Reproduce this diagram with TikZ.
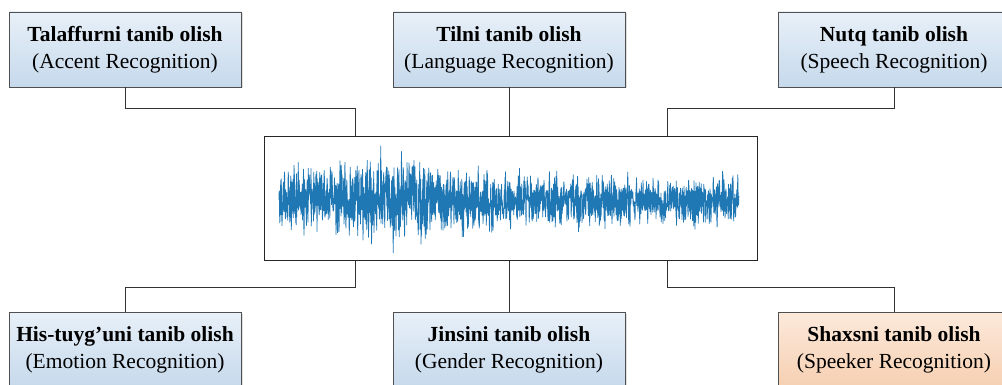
\documentclass[tikz,border=0pt]{standalone}
\usepackage{fontspec}
\setmainfont{Liberation Serif}
\usetikzlibrary{shadows}
\definecolor{boxblue}{RGB}{232,240,248}
\definecolor{boxbluedark}{RGB}{198,217,236}
\definecolor{boxpeach}{RGB}{252,233,219}
\definecolor{boxpeachdark}{RGB}{246,208,178}
\definecolor{boxedge}{RGB}{80,80,80}
\definecolor{waveblue}{RGB}{31,119,180}
\tikzstyle{taskbox}=[draw=boxedge,line width=0.8pt,top color=boxblue,bottom color=boxbluedark,
  minimum width=232pt,minimum height=75pt,align=center,font=\fontsize{21.5}{27}\selectfont,
  drop shadow={shadow xshift=1.5pt,shadow yshift=-1.5pt,opacity=0.25}]
\tikzstyle{speakerbox}=[taskbox,top color=boxpeach,bottom color=boxpeachdark]
\tikzstyle{link}=[draw=black!80,line width=0.8pt]
\tikzstyle{signal}=[draw=waveblue,line width=0.9pt,line join=round]

\begin{document}
\begin{tikzpicture}[x=1pt,y=-1pt]
  \useasboundingbox (0,0) rectangle (1002,385);
  \clip (0,0) rectangle (1002,385);

  % signal frame
  \node[draw=black!85,line width=1pt,fill=white,minimum width=493pt,minimum height=123pt]
    (wave) at (510.5,198.5) {};
  \pgfmathsetseed{11}
  \draw[signal] (279,200) \foreach \i in {1,...,1840} {
    -- ({279+0.25*\i},{200+(14-3*\i/1840+8/(1+((279+0.25*\i-392)/35)^2))*(rand+rand+rand)}) };

  % tasks above
  \node[taskbox] (accent) at (125,49.5) {\textbf{Talaffurni tanib olish}\\(Accent Recognition)};
  \node[taskbox] (lang) at (509,49.5) {\textbf{Tilni tanib olish}\\(Language Recognition)};
  \node[taskbox] (speech) at (894,49.5) {\textbf{Nutq tanib olish}\\(Speech Recognition)};

  % tasks below
  \node[taskbox] (emotion) at (125,349.5) {\textbf{His-tuyg’uni tanib olish}\\(Emotion Recognition)};
  \node[taskbox] (gender) at (509,349.5) {\textbf{Jinsini tanib olish}\\(Gender Recognition)};
  \node[speakerbox] (speaker) at (894,349.5) {\textbf{Shaxsni tanib olish}\\(Speeker Recognition)};

  \coordinate (topbus) at (0,108);
  \coordinate (botbus) at (0,287);
  \coordinate (wnl) at ([xshift=-155.5pt]wave.north);
  \coordinate (wnr) at ([xshift=156.5pt]wave.north);
  \coordinate (wsl) at ([xshift=-155.5pt]wave.south);
  \coordinate (wsr) at ([xshift=156.5pt]wave.south);

  \draw[link] (accent.south) |- (wnl |- topbus) -- (wnl);
  \draw[link] (lang.south) -- (lang.south |- wave.north);
  \draw[link] (speech.south) |- (wnr |- topbus) -- (wnr);
  \draw[link] (emotion.north) |- (wsl |- botbus) -- (wsl);
  \draw[link] (gender.north) -- (gender.north |- wave.south);
  \draw[link] (speaker.north) |- (wsr |- botbus) -- (wsr);
\end{tikzpicture}
\end{document}
